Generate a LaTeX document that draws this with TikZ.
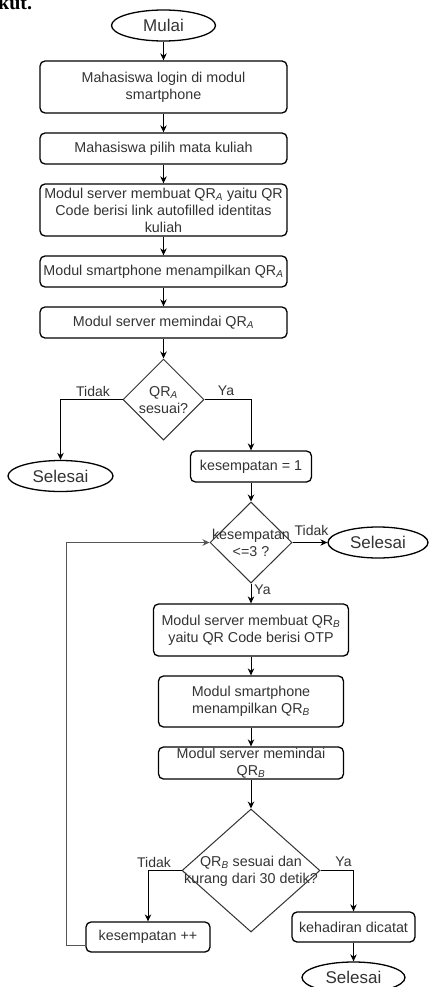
\documentclass[tikz,border=0pt]{standalone}
\usepackage{fontspec}
\setmainfont{Liberation Sans}
\newfontfamily\docserif{Liberation Serif}
\usetikzlibrary{shapes.geometric,arrows.meta,calc}
\definecolor{txt}{HTML}{333333}
\definecolor{dgray}{HTML}{333333}
\definecolor{loopgray}{HTML}{555555}
\begin{document}
\begin{tikzpicture}[x=1pt,y=-1pt,
  every node/.style={text=txt, font=\fontsize{14.3}{17}\selectfont},
  box/.style={draw=black, line width=1.3pt, rounded corners=5pt, align=center, inner sep=0pt},
  term/.style={draw=black, line width=1.3pt, ellipse, inner sep=0pt, font=\fontsize{17}{20}\selectfont},
  dec/.style={draw=dgray, line width=1pt, diamond, inner sep=0pt},
  dtext/.style={align=center, inner sep=0pt},
  arr/.style={line width=1pt, -{Stealth[length=7pt,width=6.5pt]}},
  lbl/.style={inner sep=0pt, font=\fontsize{14}{17}\selectfont}
]
\path[fill=white, use as bounding box] (0,0) rectangle (429,987);

% fragment of preceding text
\node[anchor=base west, inner sep=0pt, text=black, font=\docserif\bfseries\fontsize{20}{22}\selectfont] (frag) at (-2,9.5) {kut.};

% main column
\node[term, minimum width=104pt, minimum height=31pt] (mulai) at (163.5,25.5) {Mulai};
\node[box, minimum width=247pt, minimum height=52pt] (b1) at (163.5,87) {Mahasiswa login di modul\\smartphone};
\node[box, minimum width=247pt, minimum height=31pt] (b2) at (163.5,148.5) {Mahasiswa pilih mata kuliah};
\node[box, minimum width=247pt, minimum height=52pt] (b3) at (163.5,210) {Modul server membuat QR\textsubscript{\textit{A}} yaitu QR\\Code berisi link autofilled identitas\\kuliah};
\node[box, minimum width=247pt, minimum height=31pt] (b4) at (163.5,271.5) {Modul smartphone menampilkan QR\textsubscript{\textit{A}}};
\node[box, minimum width=247pt, minimum height=31pt] (b5) at (163.5,322.5) {Modul server memindai QR\textsubscript{\textit{A}}};

\node[dec, minimum width=81pt, minimum height=81pt] (d1) at (163.5,399.5) {};
\node[dtext] (d1t) at (163.5,400) {QR\textsubscript{\textit{A}}\\sesuai?};

\node[term, minimum width=105pt, minimum height=31pt] (sel1) at (60.5,476) {Selesai};
\node[box, minimum width=121pt, minimum height=31pt] (k1) at (251,466.5) {kesempatan = 1};

\node[dec, minimum width=82pt, minimum height=81pt] (d2) at (251,542.5) {};
\node[dtext] (d2t) at (251,542.5) {kesempatan\\{<=3 ?}};
\node[term, minimum width=100pt, minimum height=31pt] (sel2) at (378,542.5) {Selesai};

\node[box, minimum width=195pt, minimum height=52pt] (bB1) at (251,630) {Modul server membuat QR\textsubscript{\textit{B}}\\yaitu QR Code berisi OTP};
\node[box, minimum width=185pt, minimum height=51pt] (bB2) at (251,701.5) {Modul smartphone\\menampilkan QR\textsubscript{\textit{B}}};
\node[box, minimum width=185pt, minimum height=32pt] (bB3) at (251,763) {Modul server memindai\\QR\textsubscript{\textit{B}}};

\node[dec, minimum width=138pt, minimum height=123pt] (d3) at (251,870.5) {};
\node[dtext] (d3t) at (251,871) {QR\textsubscript{\textit{B}} sesuai dan\\kurang dari 30 detik?};

\node[box, minimum width=124pt, minimum height=30pt] (kpp) at (148,937) {kesempatan ++};
\node[box, minimum width=123pt, minimum height=30pt] (kh) at (353.5,927) {kehadiran dicatat};
\node[term, minimum width=103pt, minimum height=31pt] (sel3) at (353.5,977.5) {Selesai};

% labels
\node[lbl] (t1) at (93,391) {Tidak};
\node[lbl] (y1) at (226,391) {Ya};
\node[lbl] (t2) at (311.5,530) {Tidak};
\node[lbl] (y2) at (262.5,590) {Ya};
\node[lbl] (t3) at (154,862) {Tidak};
\node[lbl] (y3) at (343.5,862) {Ya};

% connectors
\draw[arr] (mulai.south) -- (b1.north);
\draw[arr] (b1.south) -- (b2.north);
\draw[arr] (b2.south) -- (b3.north);
\draw[arr] (b3.south) -- (b4.north);
\draw[arr] (b4.south) -- (b5.north);
\draw[arr] (b5.south) -- (d1.north);
\draw[arr] (d1.west) -| (sel1.north);
\draw[arr] (d1.east) -| (k1.north);
\draw[arr] (k1.south) -- (d2.north);
\draw[arr] (d2.east) -- (sel2.west);
\draw[arr] (d2.south) -- (bB1.north);
\draw[arr] (bB1.south) -- (bB2.north);
\draw[arr] (bB2.south) -- (bB3.north);
\draw[arr] (bB3.south) -- (d3.north);
\draw[arr] (d3.west) -| (kpp.north);
\draw[arr] (d3.east) -| (kh.north);
\draw[arr] (kh.south) -- (sel3.north);
\coordinate (lp) at (66,542.5);
\draw[arr, draw=loopgray] ([yshift=-8pt]kpp.west) -| (lp) -- (d2.west);
\end{tikzpicture}
\end{document}
